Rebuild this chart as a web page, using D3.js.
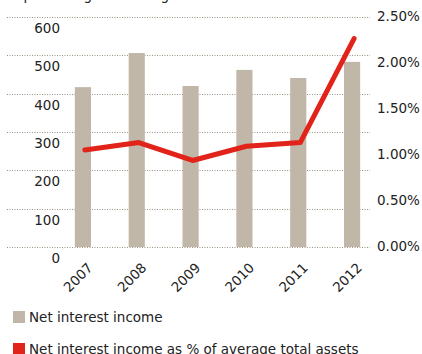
<!DOCTYPE html>
<html><head><meta charset="utf-8">
<script src="https://cdn.jsdelivr.net/npm/d3@7"></script>
<style>body{margin:0;background:#fff}svg{display:block}text{font-family:"DejaVu Sans",sans-serif;fill:#222}</style>
</head><body>
<div id="chart"></div>
<script>
const years = ["2007","2008","2009","2010","2011","2012"];
const netInterestIncome = [417, 506, 420, 462, 441, 483];
const pctOfAssets = [1.05, 1.13, 0.935, 1.09, 1.13, 2.26];
const leftTicks = [0,100,200,300,400,500,600];
const rightTicks = [0,0.5,1.0,1.5,2.0,2.5];
const legendLabels = ["Net interest income","Net interest income as % of average total assets"];

const W=422,H=354;
const svg=d3.select("#chart").append("svg").attr("width",W).attr("height",H);
const fs=13.5;

const x=d3.scaleBand().domain(years).range([56,379]).paddingInner(0.7).paddingOuter(0.35);
const yL=d3.scaleLinear().domain([0,600]).range([247,17]);
const yR=d3.scaleLinear().domain([0,2.5]).range([246.5,16.5]);

// cut-off title
svg.append("text").attr("x",7).attr("y",-0.5).attr("font-size",fs).text("in percentage of average total assets");

// gridlines
svg.append("g").selectAll("line").data(leftTicks).join("line")
  .attr("x1",7).attr("x2",370).attr("y1",d=>Math.round(yL(d))+0.5).attr("y2",d=>Math.round(yL(d))+0.5)
  .attr("stroke","#9c9282").attr("stroke-width",1).attr("stroke-dasharray","1,1.5");

// left axis labels (below gridlines)
const gl=svg.append("g").attr("transform","translate(60,0)");
const axL=d3.axisLeft(yL).tickValues(leftTicks).tickSize(0).tickPadding(0).tickFormat(d3.format("d"));
gl.call(axL); gl.select(".domain").remove();
gl.selectAll("text").attr("font-size",fs).attr("font-family","DejaVu Sans").attr("fill","#222").attr("dy","1.15em");

// right axis labels
const gr=svg.append("g").attr("transform","translate(377,0)");
const axR=d3.axisRight(yR).tickValues(rightTicks).tickSize(0).tickPadding(0).tickFormat(d=>d3.format(".2f")(d)+"%");
gr.call(axR); gr.select(".domain").remove();
gr.selectAll("text").attr("font-size",fs).attr("font-family","DejaVu Sans").attr("fill","#222");

// bars
svg.append("g").selectAll("rect").data(years).join("rect")
  .attr("x",d=>x(d)).attr("width",x.bandwidth())
  .attr("y",(d,i)=>yL(netInterestIncome[i])).attr("height",(d,i)=>yL(0)-yL(netInterestIncome[i]))
  .attr("fill","#c0b7a9");

// line
const line=d3.line().x((d,i)=>x(years[i])+x.bandwidth()/2+2).y(d=>yR(d));
svg.append("path").datum(pctOfAssets).attr("d",line).attr("fill","none")
  .attr("stroke","#e2231a").attr("stroke-width",5).attr("stroke-linejoin","round").attr("stroke-linecap","round");

// x labels
svg.append("g").selectAll("text").data(years).join("text")
  .attr("transform",d=>`translate(${x(d)+x.bandwidth()/2+4},${262}) rotate(-45)`)
  .attr("text-anchor","end").attr("font-size",fs).attr("dy","0.7em").text(d=>d);

// legend
const colors=["#c0b7a9","#e2231a"];
const lg=svg.append("g").selectAll("g").data(legendLabels).join("g")
  .attr("transform",(d,i)=>`translate(13,${311+i*32})`);
lg.append("rect").attr("width",12).attr("height",12).attr("fill",(d,i)=>colors[i]);
lg.append("text").attr("x",16).attr("y",11).attr("font-size",fs).text(d=>d);
</script>
</body></html>
